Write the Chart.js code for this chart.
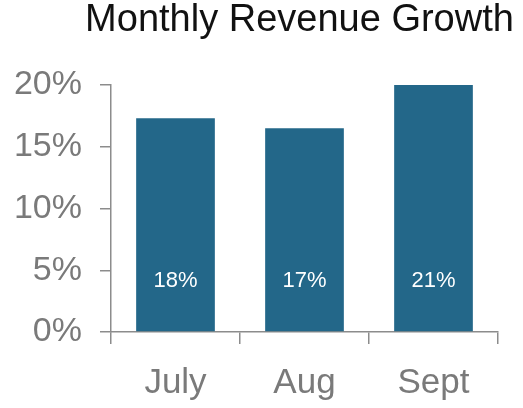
<!DOCTYPE html>
<html>
<head>
<meta charset="utf-8">
<script src="https://cdn.jsdelivr.net/npm/chart.js@4"></script>
<style>
  html, body { margin: 0; padding: 0; background: #fff; }
  #wrap { width: 523px; height: 408px; }
</style>
</head>
<body>
<div id="wrap"><canvas id="revenueChart"></canvas></div>
<script>
var months = ["July", "Aug", "Sept"];
var growth = [17.3, 16.5, 21]; // percent, Sept runs past the 20% axis top
var growthLabels = ["18%", "17%", "21%"];
var yTicks = [0, 5, 10, 15, 20];

var barColor = '#236789';
var axisColor = '#8c8c8c';
var tickColor = '#7a7a7a';

// white value text near the foot of each bar,
// and a wider title box so the title isn't squeezed to the plot width
var barLabels = {
  id: 'barLabels',
  afterLayout: function(chart) {
    var t = chart.titleBlock;
    if (t) {
      t.left = chart.chartArea.left - 35;
      t.right = chart.width;
    }
  },
  afterDatasetsDraw: function(chart) {
    var ctx = chart.ctx;
    var meta = chart.getDatasetMeta(0);
    var base = chart.scales.y.getPixelForValue(0);
    ctx.save();
    ctx.fillStyle = '#ffffff';
    ctx.font = '22px "Liberation Sans", Arial, sans-serif';
    ctx.textAlign = 'center';
    ctx.textBaseline = 'middle';
    meta.data.forEach(function(bar, i) {
      ctx.fillText(growthLabels[i], bar.x, base - 51);
    });
    ctx.restore();
  }
};

new Chart(document.getElementById("revenueChart"), {
  type: 'bar',
  data: {
    labels: months,
    datasets: [{
      label: 'Revenue growth',
      data: growth,
      backgroundColor: barColor,
      borderWidth: 0,
      barPercentage: 0.61,
      categoryPercentage: 1.0
    }]
  },
  options: {
    responsive: true,
    maintainAspectRatio: false,
    animation: false,
    layout: { padding: { left: 0, right: 25, top: 0, bottom: 0 } },
    plugins: {
      legend: { display: false },
      tooltip: { enabled: false },
      title: {
        display: true,
        text: 'Monthly Revenue Growth',
        fullSize: false,
        color: '#111111',
        font: { family: '"Liberation Sans", Arial, sans-serif', size: 38, weight: 'normal', lineHeight: 1.0 },
        padding: { top: 2, bottom: 45 }
      }
    },
    scales: {
      x: {
        afterFit: function(scale) { scale.height = 76; },
        grid: { display: true, offset: true, drawOnChartArea: false, drawTicks: true, tickLength: 12, color: axisColor, lineWidth: 1.5 },
        border: { display: true, color: axisColor, width: 1.5 },
        ticks: {
          color: tickColor,
          padding: 18,
          font: { family: '"Liberation Sans", Arial, sans-serif', size: 35 }
        }
      },
      y: {
        min: 0,
        max: 20,
        afterFit: function(scale) { scale.width = 111; },
        afterBuildTicks: function(scale) {
          scale.ticks = yTicks.map(function(v) { return { value: v }; });
        },
        grid: { display: true, drawOnChartArea: false, drawTicks: true, tickLength: 11, color: axisColor, lineWidth: 1.5 },
        border: { display: true, color: axisColor, width: 1.5 },
        ticks: {
          color: tickColor,
          padding: 18,
          font: { family: '"Liberation Sans", Arial, sans-serif', size: 34 },
          callback: function(v) { return v + '%'; }
        }
      }
    }
  },
  plugins: [barLabels]
});
</script>
</body>
</html>
